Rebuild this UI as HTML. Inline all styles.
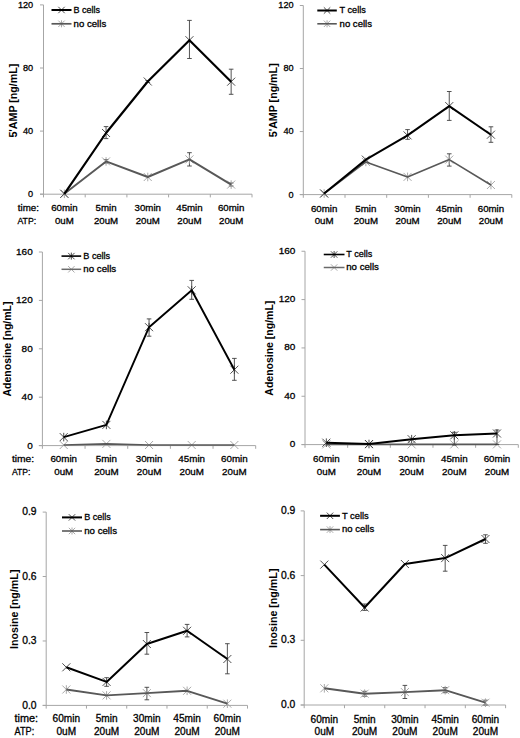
<!DOCTYPE html>
<html><head><meta charset="utf-8"><style>
html,body{margin:0;padding:0;background:#fff;}
svg{display:block;}
text{font-family:"Liberation Sans", sans-serif;fill:#000;stroke:#000;stroke-width:0.3px;}
</style></head><body>
<svg width="520" height="738" viewBox="0 0 520 738">
<rect width="520" height="738" fill="#fff"/>
<g><path d="M43.5 4.9V197.4M40 194.2H252" stroke="#a6a6a6" stroke-width="1" fill="none"/>
<path d="M40 4.9H43.5M40 68H43.5M40 131.1H43.5M40 194.2H43.5M85.2 194.2V197.4M126.9 194.2V197.4M168.6 194.2V197.4M210.3 194.2V197.4M252 194.2V197.4" stroke="#a6a6a6" stroke-width="1" fill="none"/>
<text x="33.2" y="7.8" text-anchor="end" font-size="9.5" textLength="15.3" lengthAdjust="spacingAndGlyphs">120</text>
<text x="33.2" y="70.9" text-anchor="end" font-size="9.5" textLength="10.2" lengthAdjust="spacingAndGlyphs">80</text>
<text x="33.2" y="134" text-anchor="end" font-size="9.5" textLength="10.2" lengthAdjust="spacingAndGlyphs">40</text>
<text x="33.2" y="197.1" text-anchor="end" font-size="9.5" textLength="5.1" lengthAdjust="spacingAndGlyphs">0</text>
<text transform="translate(16.6 100.6) rotate(-90)" text-anchor="middle" font-weight="bold" font-size="10.7" textLength="74" lengthAdjust="spacing" style="stroke:none">5&#39;AMP [ng/mL]</text>
<text x="64.35" y="211.4" text-anchor="middle" font-size="9.7">60min</text>
<text x="64.35" y="224.2" text-anchor="middle" font-size="9.7">0uM</text>
<text x="106.05" y="211.4" text-anchor="middle" font-size="9.7">5min</text>
<text x="106.05" y="224.2" text-anchor="middle" font-size="9.7">20uM</text>
<text x="147.75" y="211.4" text-anchor="middle" font-size="9.7">30min</text>
<text x="147.75" y="224.2" text-anchor="middle" font-size="9.7">20uM</text>
<text x="189.45" y="211.4" text-anchor="middle" font-size="9.7">45min</text>
<text x="189.45" y="224.2" text-anchor="middle" font-size="9.7">20uM</text>
<text x="231.15" y="211.4" text-anchor="middle" font-size="9.7">60min</text>
<text x="231.15" y="224.2" text-anchor="middle" font-size="9.7">20uM</text>
<text x="17.8" y="211.4" font-size="9.7" textLength="21.1" lengthAdjust="spacingAndGlyphs">time:</text>
<text x="17.4" y="224.2" font-size="9.7" textLength="18.8" lengthAdjust="spacingAndGlyphs">ATP:</text>
<path d="M106.05 159.6V163M103.75 159.6H108.35M103.75 163H108.35" stroke="#404040" stroke-width="0.9" fill="none"/>
<path d="M189.45 152.7V166M187.15 152.7H191.75M187.15 166H191.75" stroke="#404040" stroke-width="0.9" fill="none"/>
<path d="M231.15 183V186M228.85 183H233.45M228.85 186H233.45" stroke="#404040" stroke-width="0.9" fill="none"/>
<path d="M60.35 189.8L68.35 197.8M60.35 197.8L68.35 189.8" stroke="#a0a0a0" stroke-width="0.9" fill="none"/><path d="M64.35 189.5L64.35 198.1" stroke="#a0a0a0" stroke-width="0.9"/>
<path d="M102.05 157.4L110.05 165.4M102.05 165.4L110.05 157.4" stroke="#a0a0a0" stroke-width="0.9" fill="none"/><path d="M106.05 157.1L106.05 165.7" stroke="#a0a0a0" stroke-width="0.9"/>
<path d="M143.75 173L151.75 181M143.75 181L151.75 173" stroke="#a0a0a0" stroke-width="0.9" fill="none"/><path d="M147.75 172.7L147.75 181.3" stroke="#a0a0a0" stroke-width="0.9"/>
<path d="M185.45 155.4L193.45 163.4M185.45 163.4L193.45 155.4" stroke="#a0a0a0" stroke-width="0.9" fill="none"/><path d="M189.45 155.1L189.45 163.7" stroke="#a0a0a0" stroke-width="0.9"/>
<path d="M227.15 180.6L235.15 188.6M227.15 188.6L235.15 180.6" stroke="#a0a0a0" stroke-width="0.9" fill="none"/><path d="M231.15 180.3L231.15 188.9" stroke="#a0a0a0" stroke-width="0.9"/>
<polyline points="64.35,193.8 106.05,161.4 147.75,177 189.45,159.4 231.15,184.6" stroke="#585858" stroke-width="1.9" fill="none" stroke-linejoin="round"/>
<path d="M106.05 126.6V138.6M103.75 126.6H108.35M103.75 138.6H108.35" stroke="#404040" stroke-width="0.9" fill="none"/>
<path d="M147.75 80.5V82.5M145.45 80.5H150.05M145.45 82.5H150.05" stroke="#404040" stroke-width="0.9" fill="none"/>
<path d="M189.45 20.4V58.5M187.15 20.4H191.75M187.15 58.5H191.75" stroke="#404040" stroke-width="0.9" fill="none"/>
<path d="M231.15 69.2V94.3M228.85 69.2H233.45M228.85 94.3H233.45" stroke="#404040" stroke-width="0.9" fill="none"/>
<path d="M60.35 189.8L68.35 197.8M60.35 197.8L68.35 189.8" stroke="#3a3a3a" stroke-width="0.9" fill="none"/>
<path d="M102.05 129L110.05 137M102.05 137L110.05 129" stroke="#3a3a3a" stroke-width="0.9" fill="none"/>
<path d="M143.75 77.5L151.75 85.5M143.75 85.5L151.75 77.5" stroke="#3a3a3a" stroke-width="0.9" fill="none"/>
<path d="M185.45 36.2L193.45 44.2M185.45 44.2L193.45 36.2" stroke="#3a3a3a" stroke-width="0.9" fill="none"/>
<path d="M227.15 77.7L235.15 85.7M227.15 85.7L235.15 77.7" stroke="#3a3a3a" stroke-width="0.9" fill="none"/>
<polyline points="64.35,193.8 106.05,133 147.75,81.5 189.45,40.2 231.15,81.7" stroke="#000000" stroke-width="2.2" fill="none" stroke-linejoin="round"/>
<path d="M58.3 6.8L64.7 13.2M58.3 13.2L64.7 6.8" stroke="#3a3a3a" stroke-width="0.9" fill="none"/>
<path d="M51.5 10H71.5" stroke="#000000" stroke-width="2.0"/>
<text x="73.6" y="12.7" font-size="9.1" textLength="26.5" lengthAdjust="spacingAndGlyphs">B cells</text>
<path d="M58.3 20.6L64.7 27M58.3 27L64.7 20.6" stroke="#a0a0a0" stroke-width="0.9" fill="none"/><path d="M61.5 20.3L61.5 27.3" stroke="#a0a0a0" stroke-width="0.9"/>
<path d="M51.5 23.8H71.5" stroke="#585858" stroke-width="1.7"/>
<text x="73.6" y="26.5" font-size="9.1" textLength="32.6" lengthAdjust="spacingAndGlyphs">no cells</text></g>
<g><path d="M303.3 5.5V197.8M299.8 194.6H511.8" stroke="#a6a6a6" stroke-width="1" fill="none"/>
<path d="M299.8 5.5H303.3M299.8 68.53H303.3M299.8 131.57H303.3M299.8 194.6H303.3M345 194.6V197.8M386.7 194.6V197.8M428.4 194.6V197.8M470.1 194.6V197.8M511.8 194.6V197.8" stroke="#a6a6a6" stroke-width="1" fill="none"/>
<text x="293.6" y="8.4" text-anchor="end" font-size="9.5" textLength="15.3" lengthAdjust="spacingAndGlyphs">120</text>
<text x="293.6" y="71.43" text-anchor="end" font-size="9.5" textLength="10.2" lengthAdjust="spacingAndGlyphs">80</text>
<text x="293.6" y="134.47" text-anchor="end" font-size="9.5" textLength="10.2" lengthAdjust="spacingAndGlyphs">40</text>
<text x="293.6" y="197.5" text-anchor="end" font-size="9.5" textLength="5.1" lengthAdjust="spacingAndGlyphs">0</text>
<text transform="translate(277 100.3) rotate(-90)" text-anchor="middle" font-weight="bold" font-size="10.7" textLength="74" lengthAdjust="spacing" style="stroke:none">5&#39;AMP [ng/mL]</text>
<text x="324.15" y="211.5" text-anchor="middle" font-size="9.7">60min</text>
<text x="324.15" y="223.9" text-anchor="middle" font-size="9.7">0uM</text>
<text x="365.85" y="211.5" text-anchor="middle" font-size="9.7">5min</text>
<text x="365.85" y="223.9" text-anchor="middle" font-size="9.7">20uM</text>
<text x="407.55" y="211.5" text-anchor="middle" font-size="9.7">30min</text>
<text x="407.55" y="223.9" text-anchor="middle" font-size="9.7">20uM</text>
<text x="449.25" y="211.5" text-anchor="middle" font-size="9.7">45min</text>
<text x="449.25" y="223.9" text-anchor="middle" font-size="9.7">20uM</text>
<text x="490.95" y="211.5" text-anchor="middle" font-size="9.7">60min</text>
<text x="490.95" y="223.9" text-anchor="middle" font-size="9.7">20uM</text>
<path d="M449.25 153.8V166.1M446.95 153.8H451.55M446.95 166.1H451.55" stroke="#404040" stroke-width="0.9" fill="none"/>
<path d="M320.15 189.5L328.15 197.5M320.15 197.5L328.15 189.5" stroke="#a0a0a0" stroke-width="0.9" fill="none"/><path d="M324.15 189.2L324.15 197.8" stroke="#a0a0a0" stroke-width="0.9"/>
<path d="M361.85 157.9L369.85 165.9M361.85 165.9L369.85 157.9" stroke="#a0a0a0" stroke-width="0.9" fill="none"/><path d="M365.85 157.6L365.85 166.2" stroke="#a0a0a0" stroke-width="0.9"/>
<path d="M403.55 172.9L411.55 180.9M403.55 180.9L411.55 172.9" stroke="#a0a0a0" stroke-width="0.9" fill="none"/><path d="M407.55 172.6L407.55 181.2" stroke="#a0a0a0" stroke-width="0.9"/>
<path d="M445.25 155.6L453.25 163.6M445.25 163.6L453.25 155.6" stroke="#a0a0a0" stroke-width="0.9" fill="none"/><path d="M449.25 155.3L449.25 163.9" stroke="#a0a0a0" stroke-width="0.9"/>
<path d="M486.95 181L494.95 189M486.95 189L494.95 181" stroke="#a0a0a0" stroke-width="0.9" fill="none"/><path d="M490.95 180.7L490.95 189.3" stroke="#a0a0a0" stroke-width="0.9"/>
<polyline points="324.15,193.5 365.85,161.9 407.55,176.9 449.25,159.6 490.95,185" stroke="#585858" stroke-width="1.6" fill="none" stroke-linejoin="round"/>
<path d="M407.55 129.6V139.3M405.25 129.6H409.85M405.25 139.3H409.85" stroke="#404040" stroke-width="0.9" fill="none"/>
<path d="M449.25 91.5V120.4M446.95 91.5H451.55M446.95 120.4H451.55" stroke="#404040" stroke-width="0.9" fill="none"/>
<path d="M490.95 126.8V142.3M488.65 126.8H493.25M488.65 142.3H493.25" stroke="#404040" stroke-width="0.9" fill="none"/>
<path d="M320.15 189.5L328.15 197.5M320.15 197.5L328.15 189.5" stroke="#3a3a3a" stroke-width="0.9" fill="none"/>
<path d="M361.85 155.6L369.85 163.6M361.85 163.6L369.85 155.6" stroke="#3a3a3a" stroke-width="0.9" fill="none"/>
<path d="M403.55 131.4L411.55 139.4M403.55 139.4L411.55 131.4" stroke="#3a3a3a" stroke-width="0.9" fill="none"/>
<path d="M445.25 102.1L453.25 110.1M445.25 110.1L453.25 102.1" stroke="#3a3a3a" stroke-width="0.9" fill="none"/>
<path d="M486.95 130.7L494.95 138.7M486.95 138.7L494.95 130.7" stroke="#3a3a3a" stroke-width="0.9" fill="none"/>
<polyline points="324.15,193.5 365.85,159.6 407.55,135.4 449.25,106.1 490.95,134.7" stroke="#000000" stroke-width="2.0" fill="none" stroke-linejoin="round"/>
<path d="M323.85 7.3L330.25 13.7M323.85 13.7L330.25 7.3" stroke="#3a3a3a" stroke-width="0.9" fill="none"/>
<path d="M317.3 10.5H336.8" stroke="#000000" stroke-width="2.0"/>
<text x="339.6" y="13.2" font-size="9.1" textLength="26.2" lengthAdjust="spacingAndGlyphs">T cells</text>
<path d="M323.85 20.6L330.25 27M323.85 27L330.25 20.6" stroke="#a0a0a0" stroke-width="0.9" fill="none"/><path d="M327.05 20.3L327.05 27.3" stroke="#a0a0a0" stroke-width="0.9"/>
<path d="M317.3 23.8H336.8" stroke="#585858" stroke-width="1.6"/>
<text x="339.6" y="26.5" font-size="9.1" textLength="32.4" lengthAdjust="spacingAndGlyphs">no cells</text></g>
<g><path d="M42.4 252V448.8M38.9 445.6H255.7" stroke="#a6a6a6" stroke-width="1" fill="none"/>
<path d="M38.9 252H42.4M38.9 300.4H42.4M38.9 348.8H42.4M38.9 397.2H42.4M38.9 445.6H42.4M85.06 445.6V448.8M127.72 445.6V448.8M170.38 445.6V448.8M213.04 445.6V448.8M255.7 445.6V448.8" stroke="#a6a6a6" stroke-width="1" fill="none"/>
<text x="32.7" y="255.04" text-anchor="end" font-size="9.9" textLength="16.65" lengthAdjust="spacingAndGlyphs">160</text>
<text x="32.7" y="303.44" text-anchor="end" font-size="9.9" textLength="16.65" lengthAdjust="spacingAndGlyphs">120</text>
<text x="32.7" y="351.84" text-anchor="end" font-size="9.9" textLength="11.1" lengthAdjust="spacingAndGlyphs">80</text>
<text x="32.7" y="400.24" text-anchor="end" font-size="9.9" textLength="11.1" lengthAdjust="spacingAndGlyphs">40</text>
<text x="32.7" y="448.64" text-anchor="end" font-size="9.9" textLength="5.55" lengthAdjust="spacingAndGlyphs">0</text>
<text transform="translate(10.9 349) rotate(-90)" text-anchor="middle" font-weight="bold" font-size="10.5" textLength="95" lengthAdjust="spacing" style="stroke:none">Adenosine [ng/mL]</text>
<text x="63.73" y="462" text-anchor="middle" font-size="9.8">60min</text>
<text x="63.73" y="474.9" text-anchor="middle" font-size="9.8">0uM</text>
<text x="106.39" y="462" text-anchor="middle" font-size="9.8">5min</text>
<text x="106.39" y="474.9" text-anchor="middle" font-size="9.8">20uM</text>
<text x="149.05" y="462" text-anchor="middle" font-size="9.8">30min</text>
<text x="149.05" y="474.9" text-anchor="middle" font-size="9.8">20uM</text>
<text x="191.71" y="462" text-anchor="middle" font-size="9.8">45min</text>
<text x="191.71" y="474.9" text-anchor="middle" font-size="9.8">20uM</text>
<text x="234.37" y="462" text-anchor="middle" font-size="9.8">60min</text>
<text x="234.37" y="474.9" text-anchor="middle" font-size="9.8">20uM</text>
<text x="11.9" y="462" font-size="9.8" textLength="22.3" lengthAdjust="spacingAndGlyphs">time:</text>
<text x="11.9" y="474.9" font-size="9.8" textLength="18.5" lengthAdjust="spacingAndGlyphs">ATP:</text>
<path d="M59.73 441L67.73 449M59.73 449L67.73 441" stroke="#a0a0a0" stroke-width="0.9" fill="none"/>
<path d="M102.39 439.9L110.39 447.9M102.39 447.9L110.39 439.9" stroke="#a0a0a0" stroke-width="0.9" fill="none"/>
<path d="M145.05 441L153.05 449M145.05 449L153.05 441" stroke="#a0a0a0" stroke-width="0.9" fill="none"/>
<path d="M187.71 441L195.71 449M187.71 449L195.71 441" stroke="#a0a0a0" stroke-width="0.9" fill="none"/>
<path d="M230.37 441L238.37 449M230.37 449L238.37 441" stroke="#a0a0a0" stroke-width="0.9" fill="none"/>
<polyline points="63.73,445 106.39,443.9 149.05,445 191.71,445 234.37,445" stroke="#585858" stroke-width="1.6" fill="none" stroke-linejoin="round"/>
<path d="M149.05 318.9V336.2M146.75 318.9H151.35M146.75 336.2H151.35" stroke="#404040" stroke-width="0.9" fill="none"/>
<path d="M191.71 280.4V299.3M189.41 280.4H194.01M189.41 299.3H194.01" stroke="#404040" stroke-width="0.9" fill="none"/>
<path d="M234.37 358.4V380.3M232.07 358.4H236.67M232.07 380.3H236.67" stroke="#404040" stroke-width="0.9" fill="none"/>
<path d="M59.73 433.1L67.73 441.1M59.73 441.1L67.73 433.1" stroke="#3a3a3a" stroke-width="0.9" fill="none"/><path d="M63.73 432.8L63.73 441.4" stroke="#3a3a3a" stroke-width="0.9"/>
<path d="M102.39 420.9L110.39 428.9M102.39 428.9L110.39 420.9" stroke="#3a3a3a" stroke-width="0.9" fill="none"/><path d="M106.39 420.6L106.39 429.2" stroke="#3a3a3a" stroke-width="0.9"/>
<path d="M145.05 323.2L153.05 331.2M145.05 331.2L153.05 323.2" stroke="#3a3a3a" stroke-width="0.9" fill="none"/><path d="M149.05 322.9L149.05 331.5" stroke="#3a3a3a" stroke-width="0.9"/>
<path d="M187.71 286.3L195.71 294.3M187.71 294.3L195.71 286.3" stroke="#3a3a3a" stroke-width="0.9" fill="none"/><path d="M191.71 286L191.71 294.6" stroke="#3a3a3a" stroke-width="0.9"/>
<path d="M230.37 365.7L238.37 373.7M230.37 373.7L238.37 365.7" stroke="#3a3a3a" stroke-width="0.9" fill="none"/><path d="M234.37 365.4L234.37 374" stroke="#3a3a3a" stroke-width="0.9"/>
<polyline points="63.73,437.1 106.39,424.9 149.05,327.2 191.71,290.3 234.37,369.7" stroke="#000000" stroke-width="1.9" fill="none" stroke-linejoin="round"/>
<path d="M68.15 252.9L74.55 259.3M68.15 259.3L74.55 252.9" stroke="#3a3a3a" stroke-width="0.9" fill="none"/><path d="M71.35 252.6L71.35 259.6" stroke="#3a3a3a" stroke-width="0.9"/>
<path d="M61.5 256.1H81.2" stroke="#000000" stroke-width="1.6"/>
<text x="83.3" y="258.8" font-size="9.1" textLength="26.9" lengthAdjust="spacingAndGlyphs">B cells</text>
<path d="M68.15 266.1L74.55 272.5M68.15 272.5L74.55 266.1" stroke="#a0a0a0" stroke-width="0.9" fill="none"/>
<path d="M61.5 269.3H81.2" stroke="#6a6a6a" stroke-width="1.5"/>
<text x="83.3" y="272" font-size="9.1" textLength="32.9" lengthAdjust="spacingAndGlyphs">no cells</text></g>
<g><path d="M305 251.25V447.8M301.5 444.6H518.3" stroke="#a6a6a6" stroke-width="1" fill="none"/>
<path d="M301.5 251.25H305M301.5 299.59H305M301.5 347.93H305M301.5 396.26H305M301.5 444.6H305M347.66 444.6V447.8M390.32 444.6V447.8M432.98 444.6V447.8M475.64 444.6V447.8M518.3 444.6V447.8" stroke="#a6a6a6" stroke-width="1" fill="none"/>
<text x="295.3" y="253.79" text-anchor="end" font-size="9.9" textLength="16.65" lengthAdjust="spacingAndGlyphs">160</text>
<text x="295.3" y="302.13" text-anchor="end" font-size="9.9" textLength="16.65" lengthAdjust="spacingAndGlyphs">120</text>
<text x="295.3" y="350.47" text-anchor="end" font-size="9.9" textLength="11.1" lengthAdjust="spacingAndGlyphs">80</text>
<text x="295.3" y="398.81" text-anchor="end" font-size="9.9" textLength="11.1" lengthAdjust="spacingAndGlyphs">40</text>
<text x="295.3" y="447.14" text-anchor="end" font-size="9.9" textLength="5.55" lengthAdjust="spacingAndGlyphs">0</text>
<text transform="translate(273.2 348.2) rotate(-90)" text-anchor="middle" font-weight="bold" font-size="10.5" textLength="95" lengthAdjust="spacing" style="stroke:none">Adenosine [ng/mL]</text>
<text x="326.33" y="462" text-anchor="middle" font-size="9.8">60min</text>
<text x="326.33" y="474.9" text-anchor="middle" font-size="9.8">0uM</text>
<text x="368.99" y="462" text-anchor="middle" font-size="9.8">5min</text>
<text x="368.99" y="474.9" text-anchor="middle" font-size="9.8">20uM</text>
<text x="411.65" y="462" text-anchor="middle" font-size="9.8">30min</text>
<text x="411.65" y="474.9" text-anchor="middle" font-size="9.8">20uM</text>
<text x="454.31" y="462" text-anchor="middle" font-size="9.8">45min</text>
<text x="454.31" y="474.9" text-anchor="middle" font-size="9.8">20uM</text>
<text x="496.97" y="462" text-anchor="middle" font-size="9.8">60min</text>
<text x="496.97" y="474.9" text-anchor="middle" font-size="9.8">20uM</text>
<path d="M322.33 440.4L330.33 448.4M322.33 448.4L330.33 440.4" stroke="#a0a0a0" stroke-width="0.9" fill="none"/>
<path d="M364.99 440.4L372.99 448.4M364.99 448.4L372.99 440.4" stroke="#a0a0a0" stroke-width="0.9" fill="none"/>
<path d="M407.65 440.4L415.65 448.4M407.65 448.4L415.65 440.4" stroke="#a0a0a0" stroke-width="0.9" fill="none"/>
<path d="M450.31 440.4L458.31 448.4M450.31 448.4L458.31 440.4" stroke="#a0a0a0" stroke-width="0.9" fill="none"/>
<path d="M492.97 440.4L500.97 448.4M492.97 448.4L500.97 440.4" stroke="#a0a0a0" stroke-width="0.9" fill="none"/>
<polyline points="326.33,444.4 368.99,444.4 411.65,444.4 454.31,444.4 496.97,444.4" stroke="#585858" stroke-width="1.6" fill="none" stroke-linejoin="round"/>
<path d="M454.31 432.3V445M452.01 432.3H456.61M452.01 445H456.61" stroke="#404040" stroke-width="0.9" fill="none"/>
<path d="M496.97 430V444.5M494.67 430H499.27M494.67 444.5H499.27" stroke="#404040" stroke-width="0.9" fill="none"/>
<path d="M322.33 438.7L330.33 446.7M322.33 446.7L330.33 438.7" stroke="#3a3a3a" stroke-width="0.9" fill="none"/><path d="M326.33 438.4L326.33 447" stroke="#3a3a3a" stroke-width="0.9"/>
<path d="M364.99 440L372.99 448M364.99 448L372.99 440" stroke="#3a3a3a" stroke-width="0.9" fill="none"/><path d="M368.99 439.7L368.99 448.3" stroke="#3a3a3a" stroke-width="0.9"/>
<path d="M407.65 435.2L415.65 443.2M407.65 443.2L415.65 435.2" stroke="#3a3a3a" stroke-width="0.9" fill="none"/><path d="M411.65 434.9L411.65 443.5" stroke="#3a3a3a" stroke-width="0.9"/>
<path d="M450.31 431.3L458.31 439.3M450.31 439.3L458.31 431.3" stroke="#3a3a3a" stroke-width="0.9" fill="none"/><path d="M454.31 431L454.31 439.6" stroke="#3a3a3a" stroke-width="0.9"/>
<path d="M492.97 429.5L500.97 437.5M492.97 437.5L500.97 429.5" stroke="#3a3a3a" stroke-width="0.9" fill="none"/><path d="M496.97 429.2L496.97 437.8" stroke="#3a3a3a" stroke-width="0.9"/>
<polyline points="326.33,442.7 368.99,444 411.65,439.2 454.31,435.3 496.97,433.5" stroke="#000000" stroke-width="1.9" fill="none" stroke-linejoin="round"/>
<path d="M330.93 251.3L337.32 257.7M330.93 257.7L337.32 251.3" stroke="#3a3a3a" stroke-width="0.9" fill="none"/><path d="M334.12 251L334.12 258" stroke="#3a3a3a" stroke-width="0.9"/>
<path d="M323.75 254.5H344.5" stroke="#000000" stroke-width="1.6"/>
<text x="346.25" y="257.2" font-size="9.1" textLength="26" lengthAdjust="spacingAndGlyphs">T cells</text>
<path d="M330.93 264.3L337.32 270.7M330.93 270.7L337.32 264.3" stroke="#a0a0a0" stroke-width="0.9" fill="none"/>
<path d="M323.75 267.5H344.5" stroke="#6a6a6a" stroke-width="1.5"/>
<text x="346.25" y="270.2" font-size="9.1" textLength="32.7" lengthAdjust="spacingAndGlyphs">no cells</text></g>
<g><path d="M46.2 512.1V708.6M42.7 705.4H247.5" stroke="#a6a6a6" stroke-width="1" fill="none"/>
<path d="M42.7 512.1H46.2M42.7 576.53H46.2M42.7 640.97H46.2M42.7 705.4H46.2M86.46 705.4V708.6M126.72 705.4V708.6M166.98 705.4V708.6M207.24 705.4V708.6M247.5 705.4V708.6" stroke="#a6a6a6" stroke-width="1" fill="none"/>
<text x="36.5" y="515.29" text-anchor="end" font-size="10.3">0.9</text>
<text x="36.5" y="579.72" text-anchor="end" font-size="10.3">0.6</text>
<text x="36.5" y="644.15" text-anchor="end" font-size="10.3">0.3</text>
<text x="36.5" y="708.59" text-anchor="end" font-size="10.3">0.0</text>
<text transform="translate(18.2 609.3) rotate(-90)" text-anchor="middle" font-weight="bold" font-size="10.7" textLength="79.5" lengthAdjust="spacing" style="stroke:none">Inosine [ng/mL]</text>
<text x="66.33" y="722.2" text-anchor="middle" font-size="10.1">60min</text>
<text x="66.33" y="735.4" text-anchor="middle" font-size="10.1">0uM</text>
<text x="106.59" y="722.2" text-anchor="middle" font-size="10.1">5min</text>
<text x="106.59" y="735.4" text-anchor="middle" font-size="10.1">20uM</text>
<text x="146.85" y="722.2" text-anchor="middle" font-size="10.1">30min</text>
<text x="146.85" y="735.4" text-anchor="middle" font-size="10.1">20uM</text>
<text x="187.11" y="722.2" text-anchor="middle" font-size="10.1">45min</text>
<text x="187.11" y="735.4" text-anchor="middle" font-size="10.1">20uM</text>
<text x="227.37" y="722.2" text-anchor="middle" font-size="10.1">60min</text>
<text x="227.37" y="735.4" text-anchor="middle" font-size="10.1">20uM</text>
<text x="14.5" y="722.2" font-size="10.1" textLength="23.6" lengthAdjust="spacingAndGlyphs">time:</text>
<text x="14.5" y="735.4" font-size="10.1" textLength="19.7" lengthAdjust="spacingAndGlyphs">ATP:</text>
<path d="M146.85 687.3V699.8M144.55 687.3H149.15M144.55 699.8H149.15" stroke="#404040" stroke-width="0.9" fill="none"/>
<path d="M62.33 685.5L70.33 693.5M62.33 693.5L70.33 685.5" stroke="#a0a0a0" stroke-width="0.9" fill="none"/><path d="M66.33 685.2L66.33 693.8" stroke="#a0a0a0" stroke-width="0.9"/>
<path d="M102.59 691.4L110.59 699.4M102.59 699.4L110.59 691.4" stroke="#a0a0a0" stroke-width="0.9" fill="none"/><path d="M106.59 691.1L106.59 699.7" stroke="#a0a0a0" stroke-width="0.9"/>
<path d="M142.85 689.1L150.85 697.1M142.85 697.1L150.85 689.1" stroke="#a0a0a0" stroke-width="0.9" fill="none"/><path d="M146.85 688.8L146.85 697.4" stroke="#a0a0a0" stroke-width="0.9"/>
<path d="M183.11 686.8L191.11 694.8M183.11 694.8L191.11 686.8" stroke="#a0a0a0" stroke-width="0.9" fill="none"/><path d="M187.11 686.5L187.11 695.1" stroke="#a0a0a0" stroke-width="0.9"/>
<path d="M223.37 699.7L231.37 707.7M223.37 707.7L231.37 699.7" stroke="#a0a0a0" stroke-width="0.9" fill="none"/><path d="M227.37 699.4L227.37 708" stroke="#a0a0a0" stroke-width="0.9"/>
<polyline points="66.33,689.5 106.59,695.4 146.85,693.1 187.11,690.8 227.37,703.7" stroke="#585858" stroke-width="1.9" fill="none" stroke-linejoin="round"/>
<path d="M106.59 677.7V686.3M104.29 677.7H108.89M104.29 686.3H108.89" stroke="#404040" stroke-width="0.9" fill="none"/>
<path d="M146.85 632.5V654.2M144.55 632.5H149.15M144.55 654.2H149.15" stroke="#404040" stroke-width="0.9" fill="none"/>
<path d="M187.11 624.4V636.9M184.81 624.4H189.41M184.81 636.9H189.41" stroke="#404040" stroke-width="0.9" fill="none"/>
<path d="M227.37 643.7V673.8M225.07 643.7H229.67M225.07 673.8H229.67" stroke="#404040" stroke-width="0.9" fill="none"/>
<path d="M62.33 663.3L70.33 671.3M62.33 671.3L70.33 663.3" stroke="#3a3a3a" stroke-width="0.9" fill="none"/>
<path d="M102.59 677.9L110.59 685.9M102.59 685.9L110.59 677.9" stroke="#3a3a3a" stroke-width="0.9" fill="none"/>
<path d="M142.85 640L150.85 648M142.85 648L150.85 640" stroke="#3a3a3a" stroke-width="0.9" fill="none"/>
<path d="M183.11 626.8L191.11 634.8M183.11 634.8L191.11 626.8" stroke="#3a3a3a" stroke-width="0.9" fill="none"/>
<path d="M223.37 655L231.37 663M223.37 663L231.37 655" stroke="#3a3a3a" stroke-width="0.9" fill="none"/>
<polyline points="66.33,667.3 106.59,681.9 146.85,644 187.11,630.8 227.37,659" stroke="#000000" stroke-width="2.0" fill="none" stroke-linejoin="round"/>
<path d="M68.8 514.2L75.2 520.6M68.8 520.6L75.2 514.2" stroke="#3a3a3a" stroke-width="0.9" fill="none"/>
<path d="M62 517.4H82" stroke="#000000" stroke-width="2.0"/>
<text x="84.2" y="520.1" font-size="9.3" textLength="26.6" lengthAdjust="spacingAndGlyphs">B cells</text>
<path d="M68.8 527.8L75.2 534.2M68.8 534.2L75.2 527.8" stroke="#a0a0a0" stroke-width="0.9" fill="none"/><path d="M72 527.5L72 534.5" stroke="#a0a0a0" stroke-width="0.9"/>
<path d="M62 531H82" stroke="#585858" stroke-width="1.6"/>
<text x="84.2" y="533.7" font-size="9.3" textLength="32.8" lengthAdjust="spacingAndGlyphs">no cells</text></g>
<g><path d="M304.2 510.9V708.2M300.7 705H505.6" stroke="#a6a6a6" stroke-width="1" fill="none"/>
<path d="M300.7 510.9H304.2M300.7 575.6H304.2M300.7 640.3H304.2M300.7 705H304.2M344.48 705V708.2M384.76 705V708.2M425.04 705V708.2M465.32 705V708.2M505.6 705V708.2" stroke="#a6a6a6" stroke-width="1" fill="none"/>
<text x="295.3" y="514.09" text-anchor="end" font-size="10.3">0.9</text>
<text x="295.3" y="578.79" text-anchor="end" font-size="10.3">0.6</text>
<text x="295.3" y="643.49" text-anchor="end" font-size="10.3">0.3</text>
<text x="295.3" y="708.19" text-anchor="end" font-size="10.3">0.0</text>
<text transform="translate(276.8 608.3) rotate(-90)" text-anchor="middle" font-weight="bold" font-size="10.7" textLength="79.5" lengthAdjust="spacing" style="stroke:none">Inosine [ng/mL]</text>
<text x="324.34" y="722.6" text-anchor="middle" font-size="10.1">60min</text>
<text x="324.34" y="734.9" text-anchor="middle" font-size="10.1">0uM</text>
<text x="364.62" y="722.6" text-anchor="middle" font-size="10.1">5min</text>
<text x="364.62" y="734.9" text-anchor="middle" font-size="10.1">20uM</text>
<text x="404.9" y="722.6" text-anchor="middle" font-size="10.1">30min</text>
<text x="404.9" y="734.9" text-anchor="middle" font-size="10.1">20uM</text>
<text x="445.18" y="722.6" text-anchor="middle" font-size="10.1">45min</text>
<text x="445.18" y="734.9" text-anchor="middle" font-size="10.1">20uM</text>
<text x="485.46" y="722.6" text-anchor="middle" font-size="10.1">60min</text>
<text x="485.46" y="734.9" text-anchor="middle" font-size="10.1">20uM</text>
<path d="M364.62 691.3V696.2M362.32 691.3H366.92M362.32 696.2H366.92" stroke="#404040" stroke-width="0.9" fill="none"/>
<path d="M404.9 685.4V698.5M402.6 685.4H407.2M402.6 698.5H407.2" stroke="#404040" stroke-width="0.9" fill="none"/>
<path d="M445.18 687.7V692.7M442.88 687.7H447.48M442.88 692.7H447.48" stroke="#404040" stroke-width="0.9" fill="none"/>
<path d="M485.46 700.2V705M483.16 700.2H487.76M483.16 705H487.76" stroke="#404040" stroke-width="0.9" fill="none"/>
<path d="M320.34 684.3L328.34 692.3M320.34 692.3L328.34 684.3" stroke="#a0a0a0" stroke-width="0.9" fill="none"/><path d="M324.34 684L324.34 692.6" stroke="#a0a0a0" stroke-width="0.9"/>
<path d="M360.62 689.7L368.62 697.7M360.62 697.7L368.62 689.7" stroke="#a0a0a0" stroke-width="0.9" fill="none"/><path d="M364.62 689.4L364.62 698" stroke="#a0a0a0" stroke-width="0.9"/>
<path d="M400.9 688.1L408.9 696.1M400.9 696.1L408.9 688.1" stroke="#a0a0a0" stroke-width="0.9" fill="none"/><path d="M404.9 687.8L404.9 696.4" stroke="#a0a0a0" stroke-width="0.9"/>
<path d="M441.18 686.2L449.18 694.2M441.18 694.2L449.18 686.2" stroke="#a0a0a0" stroke-width="0.9" fill="none"/><path d="M445.18 685.9L445.18 694.5" stroke="#a0a0a0" stroke-width="0.9"/>
<path d="M481.46 698.7L489.46 706.7M481.46 706.7L489.46 698.7" stroke="#a0a0a0" stroke-width="0.9" fill="none"/><path d="M485.46 698.4L485.46 707" stroke="#a0a0a0" stroke-width="0.9"/>
<polyline points="324.34,688.3 364.62,693.7 404.9,692.1 445.18,690.2 485.46,702.7" stroke="#585858" stroke-width="1.9" fill="none" stroke-linejoin="round"/>
<path d="M364.62 604V610.4M362.32 604H366.92M362.32 610.4H366.92" stroke="#404040" stroke-width="0.9" fill="none"/>
<path d="M445.18 545.4V571.2M442.88 545.4H447.48M442.88 571.2H447.48" stroke="#404040" stroke-width="0.9" fill="none"/>
<path d="M485.46 534.8V543.3M483.16 534.8H487.76M483.16 543.3H487.76" stroke="#404040" stroke-width="0.9" fill="none"/>
<path d="M320.34 560.6L328.34 568.6M320.34 568.6L328.34 560.6" stroke="#3a3a3a" stroke-width="0.9" fill="none"/>
<path d="M360.62 603.5L368.62 611.5M360.62 611.5L368.62 603.5" stroke="#3a3a3a" stroke-width="0.9" fill="none"/>
<path d="M400.9 560L408.9 568M400.9 568L408.9 560" stroke="#3a3a3a" stroke-width="0.9" fill="none"/>
<path d="M441.18 554.1L449.18 562.1M441.18 562.1L449.18 554.1" stroke="#3a3a3a" stroke-width="0.9" fill="none"/>
<path d="M481.46 535L489.46 543M481.46 543L489.46 535" stroke="#3a3a3a" stroke-width="0.9" fill="none"/>
<polyline points="324.34,564.6 364.62,607.5 404.9,564 445.18,558.1 485.46,539" stroke="#000000" stroke-width="2.0" fill="none" stroke-linejoin="round"/>
<path d="M326.8 512.6L333.2 519M326.8 519L333.2 512.6" stroke="#3a3a3a" stroke-width="0.9" fill="none"/>
<path d="M320.1 515.8H339.9" stroke="#000000" stroke-width="2.0"/>
<text x="341.9" y="518.5" font-size="9.3" textLength="26.9" lengthAdjust="spacingAndGlyphs">T cells</text>
<path d="M326.8 526.4L333.2 532.8M326.8 532.8L333.2 526.4" stroke="#a0a0a0" stroke-width="0.9" fill="none"/><path d="M330 526.1L330 533.1" stroke="#a0a0a0" stroke-width="0.9"/>
<path d="M320.1 529.6H339.9" stroke="#585858" stroke-width="1.6"/>
<text x="341.9" y="532.3" font-size="9.3" textLength="32.3" lengthAdjust="spacingAndGlyphs">no cells</text></g>
</svg>
</body></html>
